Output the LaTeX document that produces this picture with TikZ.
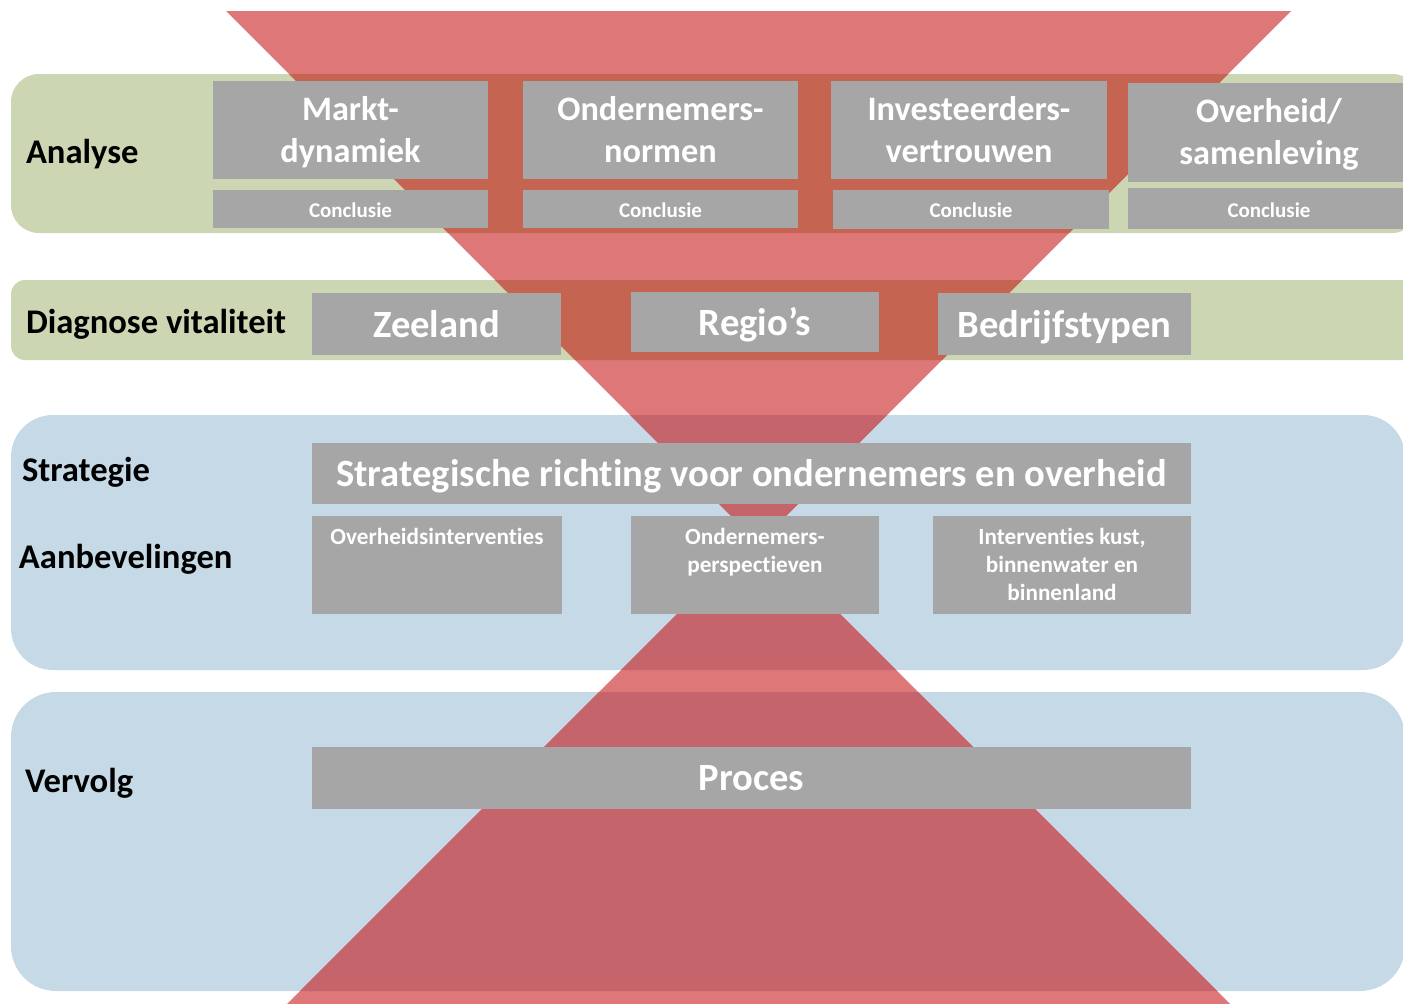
\documentclass[tikz,border=0pt]{standalone}
\usepackage{fontspec}
\setmainfont[RawFeature={-liga}]{Carlito}
\definecolor{bandgreen}{HTML}{CDD6B3}
\definecolor{bandblue}{HTML}{C5D9E6}
\definecolor{boxgrey}{HTML}{A6A6A6}
\definecolor{redlight}{HTML}{DE7778}
\definecolor{redgreen}{HTML}{C66452}
\definecolor{redblue}{HTML}{C5646B}
\begin{document}
\begin{tikzpicture}[x=1pt,y=-1pt,
  every node/.style={inner sep=0pt, outer sep=0pt},
  gbox/.style={fill=boxgrey, anchor=north west},
  wtxt/.style={text=white, anchor=base, align=center},
  ftitle/.style={font=\bfseries\fontsize{34.3}{41.5}\selectfont},
  fbig/.style={font=\bfseries\fontsize{38.6}{44}\selectfont},
  fconc/.style={font=\bfseries\fontsize{21}{24}\selectfont},
  fsmall/.style={font=\bfseries\fontsize{23.2}{27.8}\selectfont},
  lbl/.style={text=black, anchor=base west, font=\bfseries\fontsize{34.6}{40}\selectfont}]
\useasboundingbox (0,0) rectangle (1403,1004);
\clip (0,0) rectangle (1403,1004);
\fill[white] (0,0) rectangle (1403,1004);
% bands
\fill[bandgreen, rounded corners=28] (11,74) rectangle (1420,233);
\fill[bandgreen, rounded corners=14] (11,280) rectangle (1440,360);
\fill[bandblue, rounded corners=42] (11,415) rectangle (1405,670);
\fill[bandblue, rounded corners=45] (11,692) rectangle (1405,991);
% funnel triangles
\fill[redlight] (226,11) -- (1291,11) -- (758.5,543.5) -- cycle;
\fill[redlight] (287,1004) -- (1230,1004) -- (758.5,532.5) -- cycle;
\begin{scope}
  \clip (226,11) -- (1291,11) -- (758.5,543.5) -- cycle;
  \fill[redgreen, rounded corners=28] (11,74) rectangle (1420,233);
  \fill[redgreen, rounded corners=14] (11,280) rectangle (1440,360);
  \fill[redblue, rounded corners=42] (11,415) rectangle (1405,670);
\end{scope}
\begin{scope}
  \clip (287,1004) -- (1230,1004) -- (758.5,532.5) -- cycle;
  \fill[redblue, rounded corners=42] (11,415) rectangle (1405,670);
  \fill[redblue, rounded corners=45] (11,692) rectangle (1405,991);
\end{scope}
% labels
\node[lbl] (lanalyse) at (26,163) {Analyse};
\node[lbl] (ldiag) at (26,333) {Diagnose vitaliteit};
\node[lbl] (lstrat) at (22,481) {Strategie};
\node[lbl] (laanb) at (19,568) {Aanbevelingen};
\node[lbl] (lverv) at (25,792) {Vervolg};
% analyse boxes
\node[gbox, minimum width=275, minimum height=98] (markt) at (213,81) {};
\node[gbox, minimum width=275, minimum height=98] (ond) at (523,81) {};
\node[gbox, minimum width=276, minimum height=98] (inv) at (831,81) {};
\node[gbox, minimum width=282, minimum height=99] (ovh) at (1128,83) {};
\node[wtxt, ftitle] (marktt) at ([yshift=-81pt]markt.north) {Markt-\\dynamiek};
\node[wtxt, ftitle] (ondt) at ([yshift=-81pt]ond.north) {Ondernemers-\\normen};
\node[wtxt, ftitle] (invt) at ([yshift=-81pt]inv.north) {Investeerders-\\vertrouwen};
\node[wtxt, ftitle] (ovht) at ([yshift=-81pt]ovh.north) {Overheid/\\samenleving};
\node[gbox, minimum width=275, minimum height=38] (con1) at (213,190) {};
\node[gbox, minimum width=275, minimum height=38] (con2) at (523,190) {};
\node[gbox, minimum width=276, minimum height=39] (con3) at (833,190) {};
\node[gbox, minimum width=282, minimum height=41] (con4) at (1128,188) {};
\node[wtxt, fconc] (con1t) at ([yshift=-27pt]con1.north) {Conclusie};
\node[wtxt, fconc] (con2t) at ([yshift=-27pt]con2.north) {Conclusie};
\node[wtxt, fconc] (con3t) at ([yshift=-27pt]con3.north) {Conclusie};
\node[wtxt, fconc] (con4t) at ([yshift=-29pt]con4.north) {Conclusie};
% diagnose boxes
\node[gbox, minimum width=249, minimum height=62] (zee) at (312,293) {};
\node[gbox, minimum width=248, minimum height=60] (reg) at (631,292) {};
\node[gbox, minimum width=253, minimum height=62] (bed) at (938,293) {};
\node[wtxt, fbig] (zeet) at ([yshift=-44pt]zee.north) {Zeeland};
\node[wtxt, fbig] (regt) at ([yshift=-43pt]reg.north) {Regio’s};
\node[wtxt, fbig] (bedt) at ([yshift=-44pt]bed.north) {Bedrijfstypen};
% strategie
\node[gbox, minimum width=879, minimum height=61] (str) at (312,443) {};
\node[wtxt, fbig] (strt) at ([yshift=-43pt]str.north) {Strategische richting voor ondernemers en overheid};
\node[gbox, minimum width=250, minimum height=98] (aan1) at (312,516) {};
\node[gbox, minimum width=248, minimum height=98] (aan2) at (631,516) {};
\node[gbox, minimum width=258, minimum height=98] (aan3) at (933,516) {};
\node[wtxt, fsmall] (aan1t) at ([yshift=-28pt]aan1.north) {Overheidsinterventies};
\node[wtxt, fsmall] (aan2t) at ([yshift=-56pt]aan2.north) {Ondernemers-\\perspectieven};
\node[wtxt, fsmall] (aan3t) at ([yshift=-84pt]aan3.north) {Interventies kust,\\binnenwater en\\binnenland};
% vervolg
\node[gbox, minimum width=879, minimum height=62] (proc) at (312,747) {};
\node[wtxt, fbig] (proct) at ([yshift=-43pt]proc.north) {Proces};
\end{tikzpicture}
\end{document}
